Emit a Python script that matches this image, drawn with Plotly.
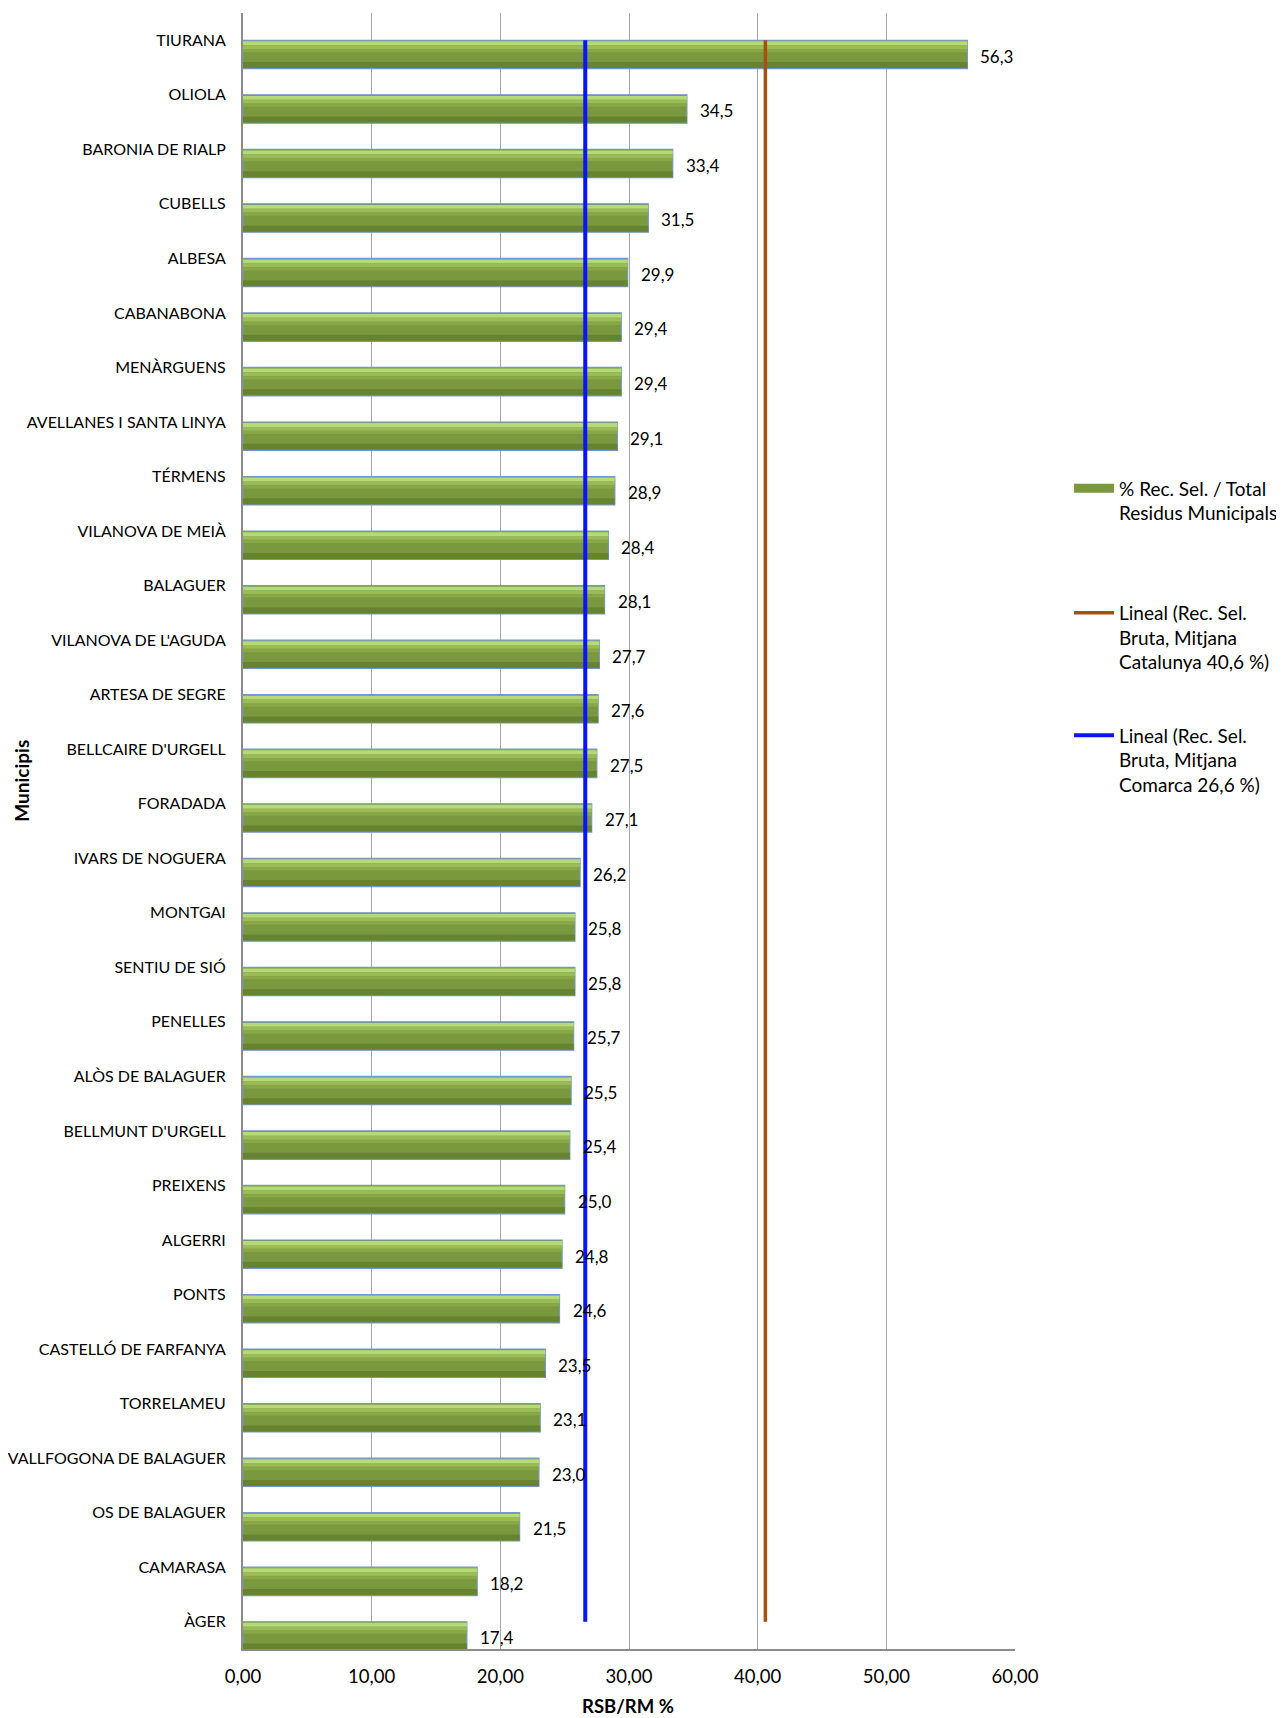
import plotly.graph_objects as go

municipis = ["TIURANA", "OLIOLA", "BARONIA DE RIALP", "CUBELLS", "ALBESA", "CABANABONA",
             "MENÀRGUENS", "AVELLANES I SANTA LINYA", "TÉRMENS", "VILANOVA DE MEIÀ", "BALAGUER",
             "VILANOVA DE L'AGUDA", "ARTESA DE SEGRE", "BELLCAIRE D'URGELL", "FORADADA",
             "IVARS DE NOGUERA", "MONTGAI", "SENTIU DE SIÓ", "PENELLES", "ALÒS DE BALAGUER",
             "BELLMUNT D'URGELL", "PREIXENS", "ALGERRI", "PONTS", "CASTELLÓ DE FARFANYA",
             "TORRELAMEU", "VALLFOGONA DE BALAGUER", "OS DE BALAGUER", "CAMARASA", "ÀGER"]
valors = [56.3, 34.5, 33.4, 31.5, 29.9, 29.4, 29.4, 29.1, 28.9, 28.4, 28.1, 27.7, 27.6, 27.5,
          27.1, 26.2, 25.8, 25.8, 25.7, 25.5, 25.4, 25.0, 24.8, 24.6, 23.5, 23.1, 23.0, 21.5,
          18.2, 17.4]
mitjana_catalunya = 40.6
mitjana_comarca = 26.6
x_ticks = [0, 10, 20, 30, 40, 50, 60]

FONT = "Lato"
BAR_NAME = "% Rec. Sel. / Total<br>Residus Municipals"

fig = go.Figure()

fig.add_trace(go.Bar(
    x=valors, y=municipis, orientation="h",
    offset=0, width=0.52,
    marker=dict(color="#7A983D", line=dict(color="#7298C8", width=1.2)),
    name=BAR_NAME, showlegend=False,
))
# shading bands to mimic the gradient fill
bands = [(0.02, 0.07, "#B6DA78"), (0.09, 0.07, "#9ABB57"), (0.16, 0.06, "#88A746"),
         (0.40, 0.11, "#67832F")]
for off, w, col in bands:
    fig.add_trace(go.Bar(
        x=valors, y=municipis, orientation="h",
        offset=off, width=w,
        marker=dict(color=col, line=dict(width=0)),
        showlegend=False, hoverinfo="skip",
    ))
# legend entry for the bar series (wide swatch like the original)
fig.add_trace(go.Scatter(
    x=[None], y=[None], mode="lines",
    line=dict(color="#7A983D", width=9),
    name=BAR_NAME, legend="legend",
))

fig.add_trace(go.Scatter(
    x=[mitjana_catalunya, mitjana_catalunya], y=[municipis[0], municipis[-1]],
    mode="lines", line=dict(color="#A5500F", width=3.5),
    name="Lineal (Rec. Sel.<br>Bruta, Mitjana<br>Catalunya 40,6 %)",
    legend="legend2",
))
fig.add_trace(go.Scatter(
    x=[mitjana_comarca, mitjana_comarca], y=[municipis[0], municipis[-1]],
    mode="lines", line=dict(color="#0A14F5", width=4),
    name="Lineal (Rec. Sel.<br>Bruta, Mitjana<br>Comarca 26,6 %)",
    legend="legend3",
))

annotations = []
for m, v in zip(municipis, valors):
    annotations.append(dict(
        x=v, y=m, xref="x", yref="y", text=f"{v:.1f}".replace(".", ","),
        showarrow=False, xanchor="left", yanchor="middle", xshift=11, yshift=-16,
        font=dict(family=FONT, size=17, color="#000"),
    ))
annotations.append(dict(
    x=-0.287, y=0.531, xref="paper", yref="paper", text="<b>Municipis</b>",
    xanchor="center", yanchor="middle",
    textangle=-90, showarrow=False, font=dict(family=FONT, size=19, color="#000"),
))
annotations.append(dict(
    x=0.499, y=-0.035, xref="paper", yref="paper", text="<b>RSB/RM %</b>",
    xanchor="center", yanchor="middle",
    showarrow=False, font=dict(family=FONT, size=18.5, color="#000"),
))

leg_common = dict(xanchor="left", yanchor="top", valign="top", itemwidth=40,
                  bgcolor="rgba(0,0,0,0)", font=dict(family=FONT, size=19, color="#000"))

fig.update_layout(
    width=1284, height=1718,
    margin=dict(l=235, r=277, t=5, b=77, autoexpand=False),
    plot_bgcolor="white", paper_bgcolor="white",
    barmode="overlay",
    separators=",.",
    font=dict(family=FONT, size=16, color="#000"),
    xaxis=dict(range=[0, 60], tickvals=x_ticks, tickformat=".2f",
               showgrid=True, gridcolor="#A6A6A6", gridwidth=1,
               showline=True, linecolor="#8C8C8C", linewidth=2,
               ticks="", ticklabelstandoff=10, zeroline=False, automargin=False,
               tickfont=dict(family=FONT, size=18.5, color="#000"), fixedrange=True),
    yaxis=dict(type="category", categoryorder="array", categoryarray=municipis,
               range=[29.5, -0.5], showgrid=False, showline=True, automargin=False,
               linecolor="#8C8C8C", linewidth=2, ticks="", ticklabelstandoff=12,
               tickfont=dict(family=FONT, size=16, color="#000")),
    legend=dict(x=1.07, y=0.721, **leg_common),
    legend2=dict(x=1.07, y=0.645, **leg_common),
    legend3=dict(x=1.07, y=0.570, **leg_common),
    annotations=annotations,
)

fig.write_html("out.html")
